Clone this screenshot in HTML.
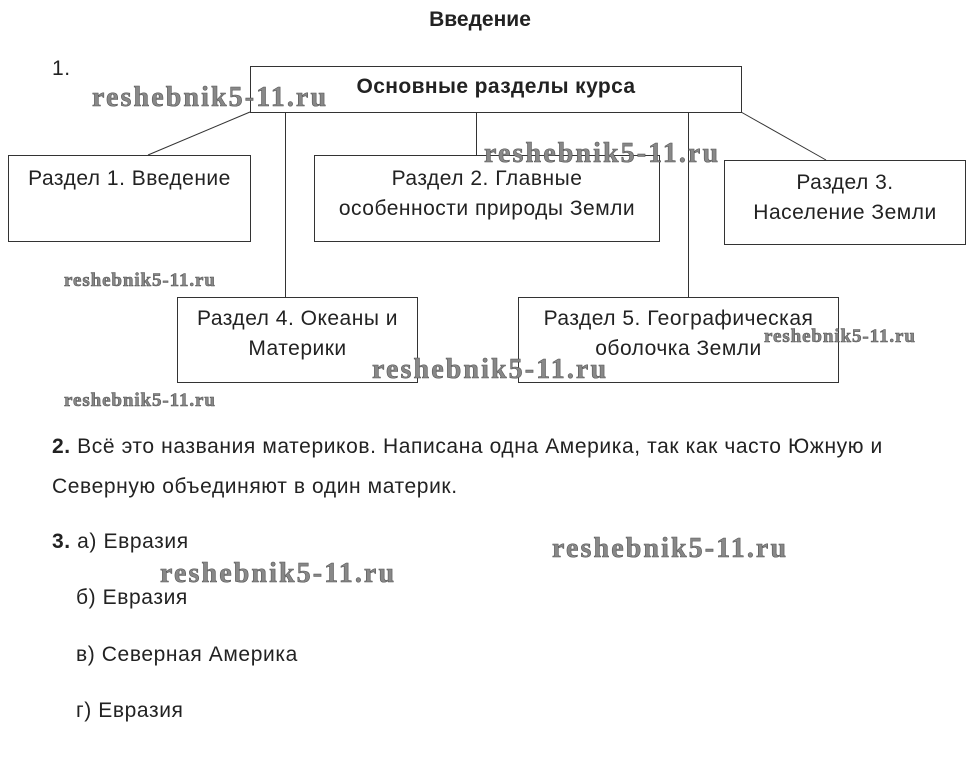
<!DOCTYPE html>
<html><head><meta charset="utf-8"><style>
body{margin:0;width:977px;height:774px;background:#fff;position:relative;overflow:hidden;font-family:"Liberation Sans","DejaVu Sans",sans-serif;color:#222}
.a{position:absolute}
.b{position:absolute;border:1px solid #333;background:#fff;box-sizing:border-box;text-align:center;font-size:21px;letter-spacing:0.5px;line-height:30px;color:#222;white-space:nowrap}
.w{position:absolute;font-family:"Liberation Serif",serif;font-weight:bold;color:#888;-webkit-text-stroke:0.6px #555;white-space:nowrap}
.big{font-size:28px;letter-spacing:2.1px}
.sm{font-size:19px;letter-spacing:0.9px}
.t{position:absolute;font-size:21px;letter-spacing:0.6px;color:#222;white-space:nowrap}
</style></head><body>
<div class="a" style="left:0;top:8px;width:960px;text-align:center;font-weight:bold;font-size:21px">Введение</div>
<div class="t" style="left:52px;top:57px">1.</div>
<svg class="a" style="left:0;top:0" width="977" height="400">
<g stroke="#333" stroke-width="1" fill="none">
<line x1="250" y1="112" x2="148" y2="155"/>
<line x1="285.5" y1="112" x2="285.5" y2="297"/>
<line x1="476.5" y1="112" x2="476.5" y2="155"/>
<line x1="688.5" y1="112" x2="688.5" y2="297"/>
<line x1="741" y1="112" x2="826" y2="160"/>
</g></svg>
<div class="b" style="left:250px;top:66px;width:492px;height:47px;font-weight:bold;line-height:40px;letter-spacing:0.4px">Основные разделы курса</div>
<div class="b" style="left:8px;top:155px;width:243px;height:87px;line-height:46px">Раздел 1. Введение</div>
<div class="b" style="left:314px;top:155px;width:346px;height:87px;padding-top:8px">Раздел 2. Главные<br>особенности природы Земли</div>
<div class="b" style="left:724px;top:160px;width:242px;height:85px;padding-top:7px">Раздел 3.<br>Население Земли</div>
<div class="b" style="left:177px;top:297px;width:241px;height:86px;padding-top:6px">Раздел 4. Океаны и<br>Материки</div>
<div class="b" style="left:518px;top:297px;width:321px;height:86px;padding-top:6px">Раздел 5. Географическая<br>оболочка Земли</div>
<div class="w big" style="left:92px;top:82px">reshebnik5-11.ru</div>
<div class="w big" style="left:484px;top:138px">reshebnik5-11.ru</div>
<div class="w sm" style="left:64px;top:270px">reshebnik5-11.ru</div>
<div class="w sm" style="left:764px;top:326px">reshebnik5-11.ru</div>
<div class="w big" style="left:372px;top:354px">reshebnik5-11.ru</div>
<div class="w sm" style="left:64px;top:390px">reshebnik5-11.ru</div>
<div class="w big" style="left:552px;top:533px">reshebnik5-11.ru</div>
<div class="w big" style="left:160px;top:558px">reshebnik5-11.ru</div>
<div class="t" style="left:52px;top:435px"><b>2.</b> Всё это названия материков. Написана одна Америка, так как часто Южную и</div>
<div class="t" style="left:52px;top:475px">Северную объединяют в один материк.</div>
<div class="t" style="left:52px;top:530px"><b>3.</b> а) Евразия</div>
<div class="t" style="left:76px;top:586px">б) Евразия</div>
<div class="t" style="left:76px;top:643px">в) Северная Америка</div>
<div class="t" style="left:76px;top:699px">г) Евразия</div>
</body></html>
